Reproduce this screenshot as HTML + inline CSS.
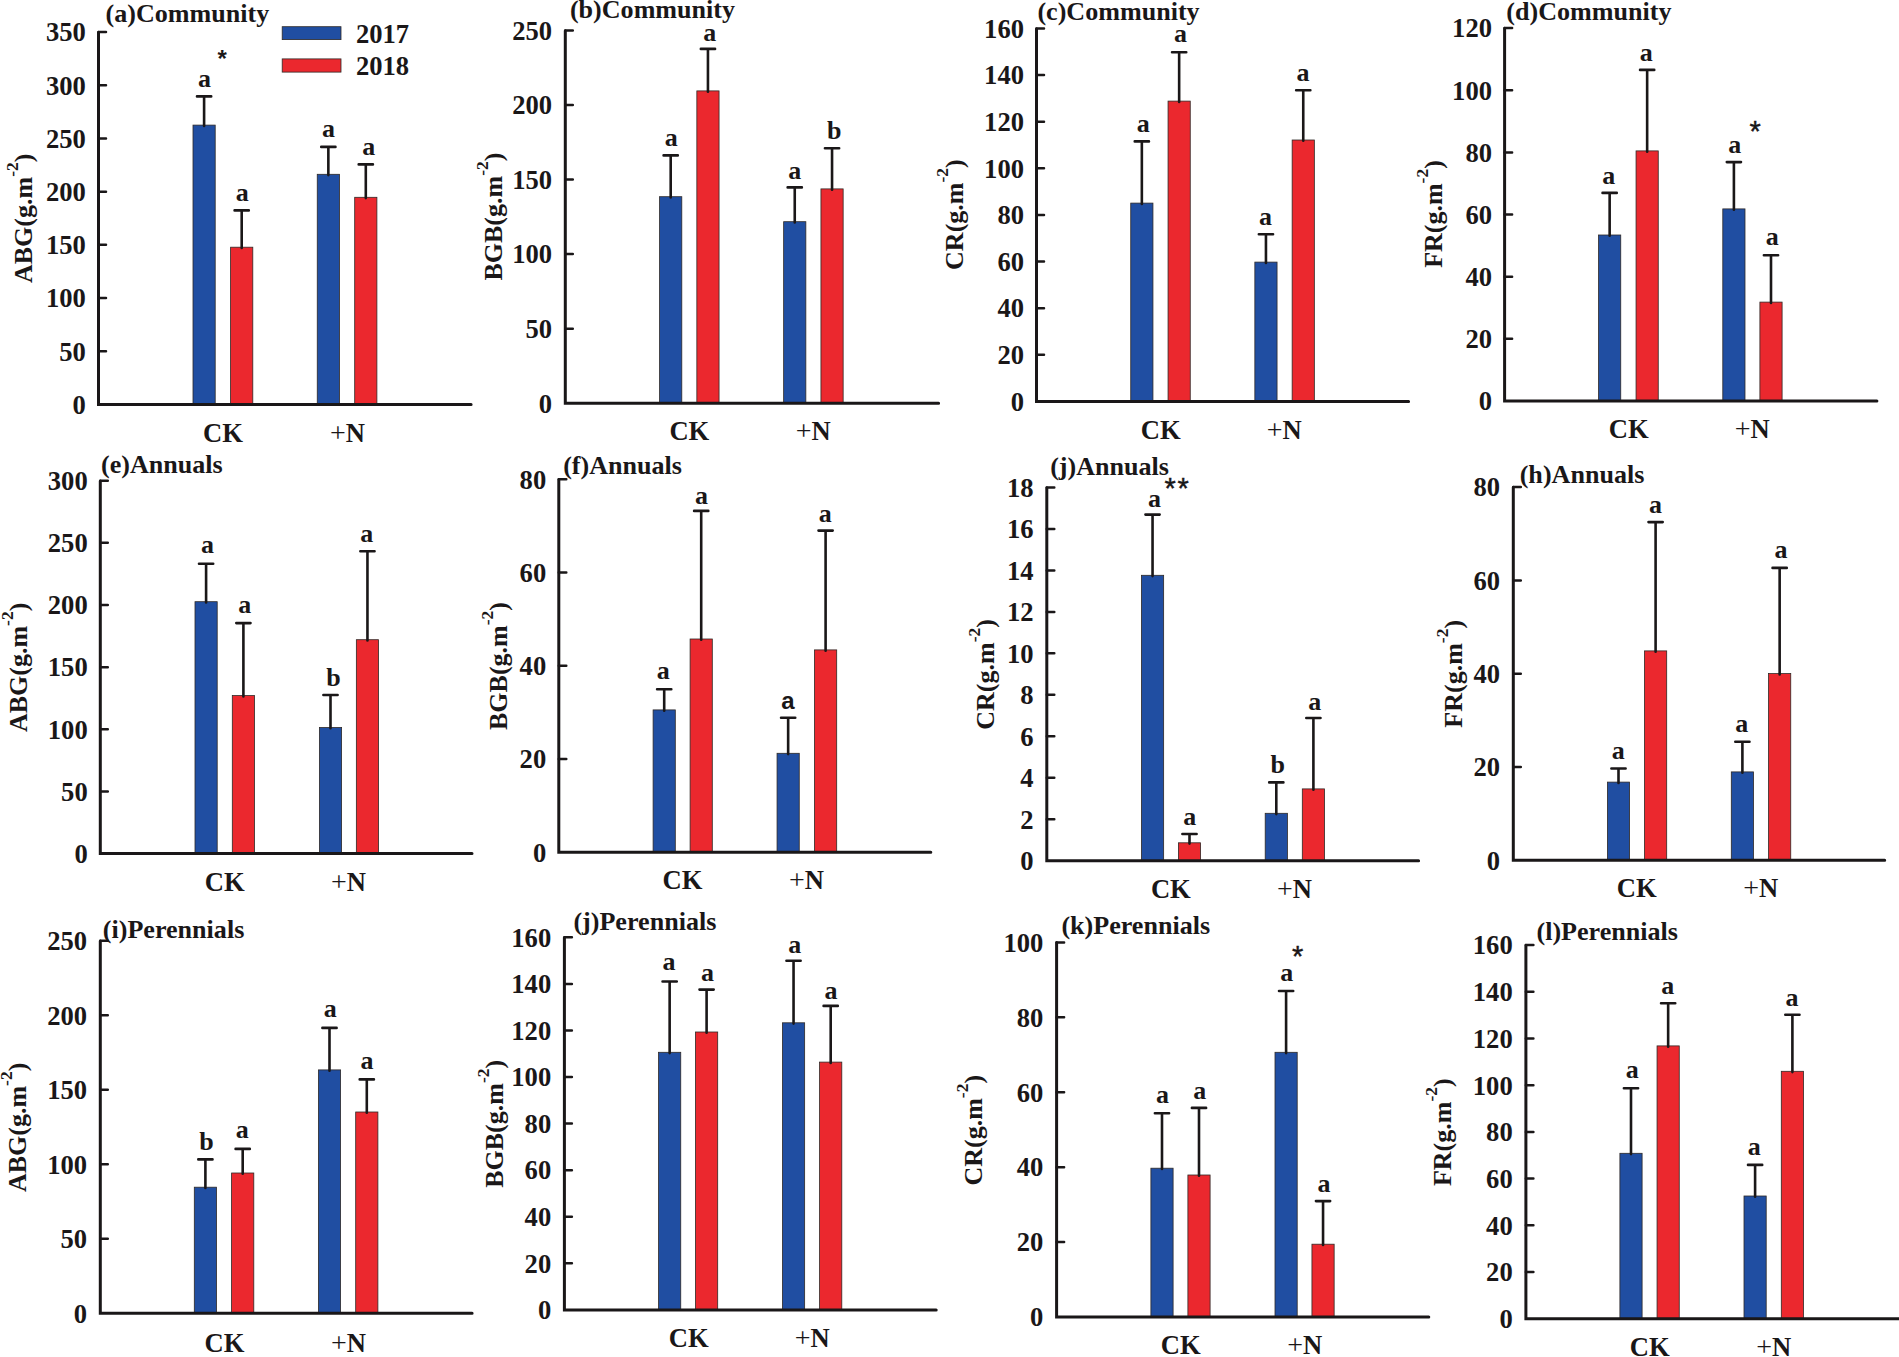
<!DOCTYPE html>
<html lang="en"><head><meta charset="utf-8"><title>Biomass bar charts</title>
<style>html,body{margin:0;padding:0;background:#fff}body{width:1899px;height:1357px;overflow:hidden}svg{display:block}text{font-family:"Liberation Serif","Times New Roman",serif;font-weight:bold;font-size:26px;fill:#1a1718}.s{font-family:"Liberation Sans",Arial,sans-serif}.r{font-weight:normal}.t{font-size:26.6px}.ti{font-size:26.08px}.sa{font-family:"Liberation Sans",Arial,sans-serif;font-size:24px}.sb{font-family:"Liberation Sans",Arial,sans-serif;font-size:24px}.sr{font-family:"Liberation Sans",Arial,sans-serif;font-weight:normal;font-size:29px;stroke:#1a1718;stroke-width:0.45px}.pl{font-weight:normal;font-size:28px}</style></head><body>
<svg width="1899" height="1357" viewBox="0 0 1899 1357">
<rect width="1899" height="1357" fill="#fff"/>
<g id="p-a">
<rect x="193" y="125.1" width="22.2" height="279.4" fill="#204ea2" stroke="#2e2926" stroke-width="0.8"/>
<path d="M204.1 125.9V96.4M197 96.4H211.2" stroke="#1a1718" stroke-width="2.6" fill="none" stroke-linecap="round"/>
<text x="204.53" y="87.1" text-anchor="middle">a</text>
<rect x="230.6" y="247.2" width="22.2" height="157.3" fill="#eb282e" stroke="#2e2926" stroke-width="0.8"/>
<path d="M241.7 248V210.4M234.6 210.4H248.8" stroke="#1a1718" stroke-width="2.6" fill="none" stroke-linecap="round"/>
<text x="242.33" y="200.6" text-anchor="middle">a</text>
<rect x="317.25" y="174.3" width="22.2" height="230.2" fill="#204ea2" stroke="#2e2926" stroke-width="0.8"/>
<path d="M328.35 175.1V146.9M321.25 146.9H335.45" stroke="#1a1718" stroke-width="2.6" fill="none" stroke-linecap="round"/>
<text x="328.58" y="137.1" text-anchor="middle">a</text>
<rect x="354.7" y="197.3" width="22.2" height="207.2" fill="#eb282e" stroke="#2e2926" stroke-width="0.8"/>
<path d="M365.8 198.1V164.4M358.7 164.4H372.9" stroke="#1a1718" stroke-width="2.6" fill="none" stroke-linecap="round"/>
<text x="368.63" y="155.1" text-anchor="middle">a</text>
<path d="M98.5 32.2V404.5H471.1" stroke="#1a1718" stroke-width="3.0" fill="none" stroke-linejoin="miter" stroke-linecap="round"/>
<text class="t" x="85.9" y="41.3" text-anchor="end">350</text>
<text class="t" x="85.9" y="94.51" text-anchor="end">300</text>
<text class="t" x="85.9" y="147.73" text-anchor="end">250</text>
<text class="t" x="85.9" y="200.94" text-anchor="end">200</text>
<text class="t" x="85.9" y="254.16" text-anchor="end">150</text>
<text class="t" x="85.9" y="307.37" text-anchor="end">100</text>
<text class="t" x="85.9" y="360.59" text-anchor="end">50</text>
<text class="t" x="85.9" y="413.8" text-anchor="end">0</text>
<path d="M98.5 32H106M98.5 85.21H106M98.5 138.43H106M98.5 191.64H106M98.5 244.86H106M98.5 298.07H106M98.5 351.29H106" stroke="#1a1718" stroke-width="2.5" fill="none" stroke-linecap="round"/>
<text class="ti" x="105.5" y="21.7">(a)Community</text>
<text transform="translate(32.2 218.3) rotate(-90)" text-anchor="middle">ABG(g.m<tspan dy="-14.3" font-size="17.5">-2</tspan><tspan dy="14.3">)</tspan></text>
<text class="t" x="203" y="441.7">CK</text>
<text class="t" x="329.9" y="441.7"><tspan class="pl">+</tspan>N</text>
<text x="217.4" y="67" class="sb">*</text>
</g>
<g id="p-b">
<rect x="659.6" y="196.7" width="22.2" height="206.5" fill="#204ea2" stroke="#2e2926" stroke-width="0.8"/>
<path d="M670.7 197.5V155.4M663.6 155.4H677.8" stroke="#1a1718" stroke-width="2.6" fill="none" stroke-linecap="round"/>
<text x="671.18" y="146" text-anchor="middle">a</text>
<rect x="696.85" y="90.9" width="22.2" height="312.3" fill="#eb282e" stroke="#2e2926" stroke-width="0.8"/>
<path d="M707.95 91.7V48.9M700.85 48.9H715.05" stroke="#1a1718" stroke-width="2.6" fill="none" stroke-linecap="round"/>
<text x="709.68" y="40.9" text-anchor="middle">a</text>
<rect x="783.65" y="221.7" width="22.2" height="181.5" fill="#204ea2" stroke="#2e2926" stroke-width="0.8"/>
<path d="M794.75 222.5V187.4M787.65 187.4H801.85" stroke="#1a1718" stroke-width="2.6" fill="none" stroke-linecap="round"/>
<text x="794.83" y="179.4" text-anchor="middle">a</text>
<rect x="820.95" y="188.9" width="22.2" height="214.3" fill="#eb282e" stroke="#2e2926" stroke-width="0.8"/>
<path d="M832.05 189.7V148.2M824.95 148.2H839.15" stroke="#1a1718" stroke-width="2.6" fill="none" stroke-linecap="round"/>
<text x="834.25" y="139.1" text-anchor="middle">b</text>
<path d="M565.3 30.7V403.2H938.6" stroke="#1a1718" stroke-width="3.0" fill="none" stroke-linejoin="miter" stroke-linecap="round"/>
<text class="t" x="552.1" y="39.8" text-anchor="end">250</text>
<text class="t" x="552.1" y="114.34" text-anchor="end">200</text>
<text class="t" x="552.1" y="188.88" text-anchor="end">150</text>
<text class="t" x="552.1" y="263.42" text-anchor="end">100</text>
<text class="t" x="552.1" y="337.96" text-anchor="end">50</text>
<text class="t" x="552.1" y="412.5" text-anchor="end">0</text>
<path d="M565.3 30.5H572.8M565.3 105.04H572.8M565.3 179.58H572.8M565.3 254.12H572.8M565.3 328.66H572.8" stroke="#1a1718" stroke-width="2.5" fill="none" stroke-linecap="round"/>
<text class="ti" x="569.9" y="18.1">(b)Community</text>
<text transform="translate(502.1 216.6) rotate(-90)" text-anchor="middle">BGB(g.m<tspan dy="-14.3" font-size="17.5">-2</tspan><tspan dy="14.3">)</tspan></text>
<text class="t" x="669.4" y="440.1">CK</text>
<text class="t" x="795.7" y="440.1"><tspan class="pl">+</tspan>N</text>
</g>
<g id="p-c">
<rect x="1130.75" y="203.1" width="22.2" height="198.3" fill="#204ea2" stroke="#2e2926" stroke-width="0.8"/>
<path d="M1141.85 203.9V141.4M1134.75 141.4H1148.95" stroke="#1a1718" stroke-width="2.6" fill="none" stroke-linecap="round"/>
<text x="1143.13" y="132.2" text-anchor="middle">a</text>
<rect x="1168.05" y="101.1" width="22.2" height="300.3" fill="#eb282e" stroke="#2e2926" stroke-width="0.8"/>
<path d="M1179.15 101.9V52.3M1172.05 52.3H1186.25" stroke="#1a1718" stroke-width="2.6" fill="none" stroke-linecap="round"/>
<text x="1180.43" y="41.8" text-anchor="middle">a</text>
<rect x="1254.85" y="262.1" width="22.2" height="139.3" fill="#204ea2" stroke="#2e2926" stroke-width="0.8"/>
<path d="M1265.95 262.9V234.3M1258.85 234.3H1273.05" stroke="#1a1718" stroke-width="2.6" fill="none" stroke-linecap="round"/>
<text x="1265.48" y="224.7" text-anchor="middle">a</text>
<rect x="1292.15" y="140" width="22.2" height="261.4" fill="#eb282e" stroke="#2e2926" stroke-width="0.8"/>
<path d="M1303.25 140.8V90.2M1296.15 90.2H1310.35" stroke="#1a1718" stroke-width="2.6" fill="none" stroke-linecap="round"/>
<text x="1302.98" y="80.7" text-anchor="middle">a</text>
<path d="M1036.5 28.7V401.4H1408.6" stroke="#1a1718" stroke-width="3.0" fill="none" stroke-linejoin="miter" stroke-linecap="round"/>
<text class="t" x="1024" y="37.8" text-anchor="end">160</text>
<text class="t" x="1024" y="84.41" text-anchor="end">140</text>
<text class="t" x="1024" y="131.03" text-anchor="end">120</text>
<text class="t" x="1024" y="177.64" text-anchor="end">100</text>
<text class="t" x="1024" y="224.25" text-anchor="end">80</text>
<text class="t" x="1024" y="270.86" text-anchor="end">60</text>
<text class="t" x="1024" y="317.47" text-anchor="end">40</text>
<text class="t" x="1024" y="364.09" text-anchor="end">20</text>
<text class="t" x="1024" y="410.7" text-anchor="end">0</text>
<path d="M1036.5 28.5H1044M1036.5 75.11H1044M1036.5 121.72H1044M1036.5 168.34H1044M1036.5 214.95H1044M1036.5 261.56H1044M1036.5 308.17H1044M1036.5 354.79H1044" stroke="#1a1718" stroke-width="2.5" fill="none" stroke-linecap="round"/>
<text class="ti" x="1037.4" y="20.1">(c)Community</text>
<text transform="translate(962.7 214.6) rotate(-90)" text-anchor="middle">CR(g.m<tspan dy="-14.3" font-size="17.5">-2</tspan><tspan dy="14.3">)</tspan></text>
<text class="t" x="1140.7" y="439.1">CK</text>
<text class="t" x="1266.7" y="439.1"><tspan class="pl">+</tspan>N</text>
</g>
<g id="p-d">
<rect x="1598.55" y="235" width="22.2" height="166" fill="#204ea2" stroke="#2e2926" stroke-width="0.8"/>
<path d="M1609.65 235.8V192.9M1602.55 192.9H1616.75" stroke="#1a1718" stroke-width="2.6" fill="none" stroke-linecap="round"/>
<text x="1608.83" y="183.7" text-anchor="middle">a</text>
<rect x="1636.05" y="150.9" width="22.2" height="250.1" fill="#eb282e" stroke="#2e2926" stroke-width="0.8"/>
<path d="M1647.15 151.7V69.9M1640.05 69.9H1654.25" stroke="#1a1718" stroke-width="2.6" fill="none" stroke-linecap="round"/>
<text x="1646.13" y="61.45" text-anchor="middle">a</text>
<rect x="1722.8" y="208.9" width="22.2" height="192.1" fill="#204ea2" stroke="#2e2926" stroke-width="0.8"/>
<path d="M1733.9 209.7V162.1M1726.8 162.1H1741" stroke="#1a1718" stroke-width="2.6" fill="none" stroke-linecap="round"/>
<text x="1734.73" y="152.9" text-anchor="middle">a</text>
<rect x="1759.9" y="302.1" width="22.2" height="98.9" fill="#eb282e" stroke="#2e2926" stroke-width="0.8"/>
<path d="M1771 302.9V255.3M1763.9 255.3H1778.1" stroke="#1a1718" stroke-width="2.6" fill="none" stroke-linecap="round"/>
<text x="1772.33" y="244.7" text-anchor="middle">a</text>
<path d="M1504.6 28.3V401H1876.9" stroke="#1a1718" stroke-width="3.0" fill="none" stroke-linejoin="miter" stroke-linecap="round"/>
<text class="t" x="1492" y="37.4" text-anchor="end">120</text>
<text class="t" x="1492" y="99.55" text-anchor="end">100</text>
<text class="t" x="1492" y="161.7" text-anchor="end">80</text>
<text class="t" x="1492" y="223.85" text-anchor="end">60</text>
<text class="t" x="1492" y="286" text-anchor="end">40</text>
<text class="t" x="1492" y="348.15" text-anchor="end">20</text>
<text class="t" x="1492" y="410.3" text-anchor="end">0</text>
<path d="M1504.6 28.1H1512.1M1504.6 90.25H1512.1M1504.6 152.4H1512.1M1504.6 214.55H1512.1M1504.6 276.7H1512.1M1504.6 338.85H1512.1" stroke="#1a1718" stroke-width="2.5" fill="none" stroke-linecap="round"/>
<text class="ti" x="1506.3" y="20.1">(d)Community</text>
<text transform="translate(1441.8 214) rotate(-90)" text-anchor="middle">FR(g.m<tspan dy="-14.3" font-size="17.5">-2</tspan><tspan dy="14.3">)</tspan></text>
<text class="t" x="1608.7" y="438.4">CK</text>
<text class="t" x="1734.7" y="438.4"><tspan class="pl">+</tspan>N</text>
<text x="1749.6" y="140.6" class="sr">*</text>
</g>
<g id="p-e">
<rect x="195" y="601.7" width="22.2" height="251.9" fill="#204ea2" stroke="#2e2926" stroke-width="0.8"/>
<path d="M206.1 602.5V563.8M199 563.8H213.2" stroke="#1a1718" stroke-width="2.6" fill="none" stroke-linecap="round"/>
<text x="207.38" y="553.2" text-anchor="middle">a</text>
<rect x="232.3" y="695.6" width="22.2" height="158" fill="#eb282e" stroke="#2e2926" stroke-width="0.8"/>
<path d="M243.4 696.4V623.1M236.3 623.1H250.5" stroke="#1a1718" stroke-width="2.6" fill="none" stroke-linecap="round"/>
<text x="244.83" y="613.1" text-anchor="middle">a</text>
<rect x="319.4" y="727.5" width="22.2" height="126.1" fill="#204ea2" stroke="#2e2926" stroke-width="0.8"/>
<path d="M330.5 728.3V695M323.4 695H337.6" stroke="#1a1718" stroke-width="2.6" fill="none" stroke-linecap="round"/>
<text x="333.4" y="685.9" text-anchor="middle">b</text>
<rect x="356.35" y="639.7" width="22.2" height="213.9" fill="#eb282e" stroke="#2e2926" stroke-width="0.8"/>
<path d="M367.45 640.5V551.2M360.35 551.2H374.55" stroke="#1a1718" stroke-width="2.6" fill="none" stroke-linecap="round"/>
<text x="366.78" y="542.4" text-anchor="middle">a</text>
<path d="M100.3 480.9V853.6H472" stroke="#1a1718" stroke-width="3.0" fill="none" stroke-linejoin="miter" stroke-linecap="round"/>
<text class="t" x="87.7" y="490" text-anchor="end">300</text>
<text class="t" x="87.7" y="552.15" text-anchor="end">250</text>
<text class="t" x="87.7" y="614.3" text-anchor="end">200</text>
<text class="t" x="87.7" y="676.45" text-anchor="end">150</text>
<text class="t" x="87.7" y="738.6" text-anchor="end">100</text>
<text class="t" x="87.7" y="800.75" text-anchor="end">50</text>
<text class="t" x="87.7" y="862.9" text-anchor="end">0</text>
<path d="M100.3 480.7H107.8M100.3 542.85H107.8M100.3 605H107.8M100.3 667.15H107.8M100.3 729.3H107.8M100.3 791.45H107.8" stroke="#1a1718" stroke-width="2.5" fill="none" stroke-linecap="round"/>
<text class="ti" x="101" y="472.5">(e)Annuals</text>
<text transform="translate(26.9 667.4) rotate(-90)" text-anchor="middle">ABG(g.m<tspan dy="-14.3" font-size="17.5">-2</tspan><tspan dy="14.3">)</tspan></text>
<text class="t" x="204.7" y="891.3">CK</text>
<text class="t" x="330.9" y="891.3"><tspan class="pl">+</tspan>N</text>
</g>
<g id="p-f">
<rect x="653.1" y="709.9" width="22.2" height="142.3" fill="#204ea2" stroke="#2e2926" stroke-width="0.8"/>
<path d="M664.2 710.7V689.2M657.1 689.2H671.3" stroke="#1a1718" stroke-width="2.6" fill="none" stroke-linecap="round"/>
<text x="663.18" y="678.9" text-anchor="middle">a</text>
<rect x="690.1" y="639" width="22.2" height="213.2" fill="#eb282e" stroke="#2e2926" stroke-width="0.8"/>
<path d="M701.2 639.8V510.9M694.1 510.9H708.3" stroke="#1a1718" stroke-width="2.6" fill="none" stroke-linecap="round"/>
<text x="701.38" y="503.5" text-anchor="middle">a</text>
<rect x="777.05" y="753.3" width="22.2" height="98.9" fill="#204ea2" stroke="#2e2926" stroke-width="0.8"/>
<path d="M788.15 754.1V717.7M781.05 717.7H795.25" stroke="#1a1718" stroke-width="2.6" fill="none" stroke-linecap="round"/>
<text x="787.88" y="709.4" text-anchor="middle" class="sa">a</text>
<rect x="814.5" y="649.9" width="22.2" height="202.3" fill="#eb282e" stroke="#2e2926" stroke-width="0.8"/>
<path d="M825.6 650.7V530.6M818.5 530.6H832.7" stroke="#1a1718" stroke-width="2.6" fill="none" stroke-linecap="round"/>
<text x="825.28" y="522.1" text-anchor="middle">a</text>
<path d="M558.8 479.5V852.2H930.8" stroke="#1a1718" stroke-width="3.0" fill="none" stroke-linejoin="miter" stroke-linecap="round"/>
<text class="t" x="546.2" y="488.6" text-anchor="end">80</text>
<text class="t" x="546.2" y="581.82" text-anchor="end">60</text>
<text class="t" x="546.2" y="675.05" text-anchor="end">40</text>
<text class="t" x="546.2" y="768.27" text-anchor="end">20</text>
<text class="t" x="546.2" y="861.5" text-anchor="end">0</text>
<path d="M558.8 479.3H566.3M558.8 572.52H566.3M558.8 665.75H566.3M558.8 758.98H566.3" stroke="#1a1718" stroke-width="2.5" fill="none" stroke-linecap="round"/>
<text class="ti" x="563.2" y="473.5">(f)Annuals</text>
<text transform="translate(507 666) rotate(-90)" text-anchor="middle">BGB(g.m<tspan dy="-14.3" font-size="17.5">-2</tspan><tspan dy="14.3">)</tspan></text>
<text class="t" x="662.6" y="889.2">CK</text>
<text class="t" x="789" y="889.2"><tspan class="pl">+</tspan>N</text>
</g>
<g id="p-g">
<rect x="1141.45" y="575.3" width="22.2" height="285.4" fill="#204ea2" stroke="#2e2926" stroke-width="0.8"/>
<path d="M1152.55 576.1V514.6M1145.45 514.6H1159.65" stroke="#1a1718" stroke-width="2.6" fill="none" stroke-linecap="round"/>
<text x="1154.43" y="506.7" text-anchor="middle">a</text>
<rect x="1178.4" y="842.8" width="22.2" height="17.9" fill="#eb282e" stroke="#2e2926" stroke-width="0.8"/>
<path d="M1189.5 843.6V834M1182.4 834H1196.6" stroke="#1a1718" stroke-width="2.6" fill="none" stroke-linecap="round"/>
<text x="1189.78" y="824.7" text-anchor="middle">a</text>
<rect x="1265.2" y="813.3" width="22.2" height="47.4" fill="#204ea2" stroke="#2e2926" stroke-width="0.8"/>
<path d="M1276.3 814.1V782.4M1269.2 782.4H1283.4" stroke="#1a1718" stroke-width="2.6" fill="none" stroke-linecap="round"/>
<text x="1277.85" y="773.1" text-anchor="middle">b</text>
<rect x="1302.3" y="788.9" width="22.2" height="71.8" fill="#eb282e" stroke="#2e2926" stroke-width="0.8"/>
<path d="M1313.4 789.7V718M1306.3 718H1320.5" stroke="#1a1718" stroke-width="2.6" fill="none" stroke-linecap="round"/>
<text x="1314.78" y="709.7" text-anchor="middle">a</text>
<path d="M1046.8 487.7V860.7H1418.6" stroke="#1a1718" stroke-width="3.0" fill="none" stroke-linejoin="miter" stroke-linecap="round"/>
<text class="t" x="1033.6" y="496.8" text-anchor="end">18</text>
<text class="t" x="1033.6" y="538.27" text-anchor="end">16</text>
<text class="t" x="1033.6" y="579.73" text-anchor="end">14</text>
<text class="t" x="1033.6" y="621.2" text-anchor="end">12</text>
<text class="t" x="1033.6" y="662.67" text-anchor="end">10</text>
<text class="t" x="1033.6" y="704.13" text-anchor="end">8</text>
<text class="t" x="1033.6" y="745.6" text-anchor="end">6</text>
<text class="t" x="1033.6" y="787.07" text-anchor="end">4</text>
<text class="t" x="1033.6" y="828.53" text-anchor="end">2</text>
<text class="t" x="1033.6" y="870" text-anchor="end">0</text>
<path d="M1046.8 487.5H1054.3M1046.8 528.97H1054.3M1046.8 570.43H1054.3M1046.8 611.9H1054.3M1046.8 653.37H1054.3M1046.8 694.83H1054.3M1046.8 736.3H1054.3M1046.8 777.77H1054.3M1046.8 819.23H1054.3" stroke="#1a1718" stroke-width="2.5" fill="none" stroke-linecap="round"/>
<text class="ti" x="1050.2" y="474.9">(j)Annuals</text>
<text transform="translate(994 674.4) rotate(-90)" text-anchor="middle">CR(g.m<tspan dy="-14.3" font-size="17.5">-2</tspan><tspan dy="14.3">)</tspan></text>
<text class="t" x="1150.9" y="897.7">CK</text>
<text class="t" x="1277" y="897.7"><tspan class="pl">+</tspan>N</text>
<text x="1164.5" y="498.4" class="sr">*</text>
<text x="1177.5" y="498.4" class="sr">*</text>
</g>
<g id="p-h">
<rect x="1607.4" y="782.1" width="22.2" height="78.2" fill="#204ea2" stroke="#2e2926" stroke-width="0.8"/>
<path d="M1618.5 782.9V768.5M1611.4 768.5H1625.6" stroke="#1a1718" stroke-width="2.6" fill="none" stroke-linecap="round"/>
<text x="1618.33" y="758.8" text-anchor="middle">a</text>
<rect x="1644.5" y="650.9" width="22.2" height="209.4" fill="#eb282e" stroke="#2e2926" stroke-width="0.8"/>
<path d="M1655.6 651.7V522.1M1648.5 522.1H1662.7" stroke="#1a1718" stroke-width="2.6" fill="none" stroke-linecap="round"/>
<text x="1655.38" y="513" text-anchor="middle">a</text>
<rect x="1731.3" y="771.9" width="22.2" height="88.4" fill="#204ea2" stroke="#2e2926" stroke-width="0.8"/>
<path d="M1742.4 772.7V741.8M1735.3 741.8H1749.5" stroke="#1a1718" stroke-width="2.6" fill="none" stroke-linecap="round"/>
<text x="1741.68" y="731.6" text-anchor="middle">a</text>
<rect x="1768.55" y="673.6" width="22.2" height="186.7" fill="#eb282e" stroke="#2e2926" stroke-width="0.8"/>
<path d="M1779.65 674.4V567.9M1772.55 567.9H1786.75" stroke="#1a1718" stroke-width="2.6" fill="none" stroke-linecap="round"/>
<text x="1780.88" y="558" text-anchor="middle">a</text>
<path d="M1513.3 487.3V860.3H1884.7" stroke="#1a1718" stroke-width="3.0" fill="none" stroke-linejoin="miter" stroke-linecap="round"/>
<text class="t" x="1500.1" y="496.4" text-anchor="end">80</text>
<text class="t" x="1500.1" y="589.7" text-anchor="end">60</text>
<text class="t" x="1500.1" y="683" text-anchor="end">40</text>
<text class="t" x="1500.1" y="776.3" text-anchor="end">20</text>
<text class="t" x="1500.1" y="869.6" text-anchor="end">0</text>
<path d="M1513.3 487.1H1520.8M1513.3 580.4H1520.8M1513.3 673.7H1520.8M1513.3 767H1520.8" stroke="#1a1718" stroke-width="2.5" fill="none" stroke-linecap="round"/>
<text class="ti" x="1519.7" y="482.5">(h)Annuals</text>
<text transform="translate(1462 673.8) rotate(-90)" text-anchor="middle">FR(g.m<tspan dy="-14.3" font-size="17.5">-2</tspan><tspan dy="14.3">)</tspan></text>
<text class="t" x="1616.8" y="897">CK</text>
<text class="t" x="1743.3" y="897"><tspan class="pl">+</tspan>N</text>
</g>
<g id="p-i">
<rect x="194.3" y="1187.2" width="22.2" height="126.1" fill="#204ea2" stroke="#2e2926" stroke-width="0.8"/>
<path d="M205.4 1188V1159.4M198.3 1159.4H212.5" stroke="#1a1718" stroke-width="2.6" fill="none" stroke-linecap="round"/>
<text x="206.55" y="1149.8" text-anchor="middle">b</text>
<rect x="231.6" y="1173" width="22.2" height="140.3" fill="#eb282e" stroke="#2e2926" stroke-width="0.8"/>
<path d="M242.7 1173.8V1148.9M235.6 1148.9H249.8" stroke="#1a1718" stroke-width="2.6" fill="none" stroke-linecap="round"/>
<text x="242.18" y="1137.9" text-anchor="middle">a</text>
<rect x="318.4" y="1069.9" width="22.2" height="243.4" fill="#204ea2" stroke="#2e2926" stroke-width="0.8"/>
<path d="M329.5 1070.7V1027.9M322.4 1027.9H336.6" stroke="#1a1718" stroke-width="2.6" fill="none" stroke-linecap="round"/>
<text x="330.33" y="1017" text-anchor="middle">a</text>
<rect x="355.7" y="1112" width="22.2" height="201.3" fill="#eb282e" stroke="#2e2926" stroke-width="0.8"/>
<path d="M366.8 1112.8V1079.4M359.7 1079.4H373.9" stroke="#1a1718" stroke-width="2.6" fill="none" stroke-linecap="round"/>
<text x="366.93" y="1068.6" text-anchor="middle">a</text>
<path d="M100.3 940.9V1313.3H472.1" stroke="#1a1718" stroke-width="3.0" fill="none" stroke-linejoin="miter" stroke-linecap="round"/>
<text class="t" x="87.1" y="950" text-anchor="end">250</text>
<text class="t" x="87.1" y="1024.52" text-anchor="end">200</text>
<text class="t" x="87.1" y="1099.04" text-anchor="end">150</text>
<text class="t" x="87.1" y="1173.56" text-anchor="end">100</text>
<text class="t" x="87.1" y="1248.08" text-anchor="end">50</text>
<text class="t" x="87.1" y="1322.6" text-anchor="end">0</text>
<path d="M100.3 940.7H107.8M100.3 1015.22H107.8M100.3 1089.74H107.8M100.3 1164.26H107.8M100.3 1238.78H107.8" stroke="#1a1718" stroke-width="2.5" fill="none" stroke-linecap="round"/>
<text class="ti" x="102.8" y="937.8">(i)Perennials</text>
<text transform="translate(26.4 1127.4) rotate(-90)" text-anchor="middle">ABG(g.m<tspan dy="-14.3" font-size="17.5">-2</tspan><tspan dy="14.3">)</tspan></text>
<text class="t" x="204.5" y="1351.7">CK</text>
<text class="t" x="330.9" y="1351.7"><tspan class="pl">+</tspan>N</text>
</g>
<g id="p-j">
<rect x="658.55" y="1052.3" width="22.2" height="257.6" fill="#204ea2" stroke="#2e2926" stroke-width="0.8"/>
<path d="M669.65 1053.1V981.5M662.55 981.5H676.75" stroke="#1a1718" stroke-width="2.6" fill="none" stroke-linecap="round"/>
<text x="668.98" y="970.3" text-anchor="middle">a</text>
<rect x="695.5" y="1032" width="22.2" height="277.9" fill="#eb282e" stroke="#2e2926" stroke-width="0.8"/>
<path d="M706.6 1032.8V989.6M699.5 989.6H713.7" stroke="#1a1718" stroke-width="2.6" fill="none" stroke-linecap="round"/>
<text x="707.58" y="981" text-anchor="middle">a</text>
<rect x="782.45" y="1022.8" width="22.2" height="287.1" fill="#204ea2" stroke="#2e2926" stroke-width="0.8"/>
<path d="M793.55 1023.6V960.8M786.45 960.8H800.65" stroke="#1a1718" stroke-width="2.6" fill="none" stroke-linecap="round"/>
<text x="794.63" y="952.6" text-anchor="middle">a</text>
<rect x="819.6" y="1062.1" width="22.2" height="247.8" fill="#eb282e" stroke="#2e2926" stroke-width="0.8"/>
<path d="M830.7 1062.9V1005.9M823.6 1005.9H837.8" stroke="#1a1718" stroke-width="2.6" fill="none" stroke-linecap="round"/>
<text x="831.03" y="999.2" text-anchor="middle">a</text>
<path d="M564.4 937.5V1309.9H936.2" stroke="#1a1718" stroke-width="3.0" fill="none" stroke-linejoin="miter" stroke-linecap="round"/>
<text class="t" x="551.2" y="946.6" text-anchor="end">160</text>
<text class="t" x="551.2" y="993.17" text-anchor="end">140</text>
<text class="t" x="551.2" y="1039.75" text-anchor="end">120</text>
<text class="t" x="551.2" y="1086.33" text-anchor="end">100</text>
<text class="t" x="551.2" y="1132.9" text-anchor="end">80</text>
<text class="t" x="551.2" y="1179.47" text-anchor="end">60</text>
<text class="t" x="551.2" y="1226.05" text-anchor="end">40</text>
<text class="t" x="551.2" y="1272.62" text-anchor="end">20</text>
<text class="t" x="551.2" y="1319.2" text-anchor="end">0</text>
<path d="M564.4 937.3H571.9M564.4 983.88H571.9M564.4 1030.45H571.9M564.4 1077.03H571.9M564.4 1123.6H571.9M564.4 1170.17H571.9M564.4 1216.75H571.9M564.4 1263.33H571.9" stroke="#1a1718" stroke-width="2.5" fill="none" stroke-linecap="round"/>
<text class="ti" x="573.4" y="930.4">(j)Perennials</text>
<text transform="translate(502.9 1123.8) rotate(-90)" text-anchor="middle">BGB(g.m<tspan dy="-14.3" font-size="17.5">-2</tspan><tspan dy="14.3">)</tspan></text>
<text class="t" x="668.7" y="1347.3">CK</text>
<text class="t" x="794.8" y="1347.3"><tspan class="pl">+</tspan>N</text>
</g>
<g id="p-k">
<rect x="1150.9" y="1168.2" width="22.2" height="148.8" fill="#204ea2" stroke="#2e2926" stroke-width="0.8"/>
<path d="M1162 1169V1113.3M1154.9 1113.3H1169.1" stroke="#1a1718" stroke-width="2.6" fill="none" stroke-linecap="round"/>
<text x="1162.48" y="1103.3" text-anchor="middle">a</text>
<rect x="1187.9" y="1175" width="22.2" height="142" fill="#eb282e" stroke="#2e2926" stroke-width="0.8"/>
<path d="M1199 1175.8V1107.9M1191.9 1107.9H1206.1" stroke="#1a1718" stroke-width="2.6" fill="none" stroke-linecap="round"/>
<text x="1199.63" y="1099.1" text-anchor="middle">a</text>
<rect x="1275" y="1052.3" width="22.2" height="264.7" fill="#204ea2" stroke="#2e2926" stroke-width="0.8"/>
<path d="M1286.1 1053.1V991M1279 991H1293.2" stroke="#1a1718" stroke-width="2.6" fill="none" stroke-linecap="round"/>
<text x="1286.83" y="981.1" text-anchor="middle">a</text>
<rect x="1311.95" y="1244.2" width="22.2" height="72.8" fill="#eb282e" stroke="#2e2926" stroke-width="0.8"/>
<path d="M1323.05 1245V1201.1M1315.95 1201.1H1330.15" stroke="#1a1718" stroke-width="2.6" fill="none" stroke-linecap="round"/>
<text x="1323.98" y="1192" text-anchor="middle">a</text>
<path d="M1056.6 942.6V1317H1428.8" stroke="#1a1718" stroke-width="3.0" fill="none" stroke-linejoin="miter" stroke-linecap="round"/>
<text class="t" x="1043.4" y="951.7" text-anchor="end">100</text>
<text class="t" x="1043.4" y="1026.62" text-anchor="end">80</text>
<text class="t" x="1043.4" y="1101.54" text-anchor="end">60</text>
<text class="t" x="1043.4" y="1176.46" text-anchor="end">40</text>
<text class="t" x="1043.4" y="1251.38" text-anchor="end">20</text>
<text class="t" x="1043.4" y="1326.3" text-anchor="end">0</text>
<path d="M1056.6 942.4H1064.1M1056.6 1017.32H1064.1M1056.6 1092.24H1064.1M1056.6 1167.16H1064.1M1056.6 1242.08H1064.1" stroke="#1a1718" stroke-width="2.5" fill="none" stroke-linecap="round"/>
<text class="ti" x="1061.4" y="933.6">(k)Perennials</text>
<text transform="translate(982.3 1130.2) rotate(-90)" text-anchor="middle">CR(g.m<tspan dy="-14.3" font-size="17.5">-2</tspan><tspan dy="14.3">)</tspan></text>
<text class="t" x="1160.7" y="1354">CK</text>
<text class="t" x="1287.2" y="1354"><tspan class="pl">+</tspan>N</text>
<text x="1292.1" y="966.2" class="sr">*</text>
</g>
<g id="p-l">
<rect x="1619.9" y="1153.3" width="22.2" height="165.4" fill="#204ea2" stroke="#2e2926" stroke-width="0.8"/>
<path d="M1631 1154.1V1088.2M1623.9 1088.2H1638.1" stroke="#1a1718" stroke-width="2.6" fill="none" stroke-linecap="round"/>
<text x="1632.23" y="1078.4" text-anchor="middle">a</text>
<rect x="1657.05" y="1045.9" width="22.2" height="272.8" fill="#eb282e" stroke="#2e2926" stroke-width="0.8"/>
<path d="M1668.15 1046.7V1003.2M1661.05 1003.2H1675.25" stroke="#1a1718" stroke-width="2.6" fill="none" stroke-linecap="round"/>
<text x="1667.68" y="994" text-anchor="middle">a</text>
<rect x="1744" y="1196" width="22.2" height="122.7" fill="#204ea2" stroke="#2e2926" stroke-width="0.8"/>
<path d="M1755.1 1196.8V1164.9M1748 1164.9H1762.2" stroke="#1a1718" stroke-width="2.6" fill="none" stroke-linecap="round"/>
<text x="1754.33" y="1155.3" text-anchor="middle">a</text>
<rect x="1781.3" y="1071.3" width="22.2" height="247.4" fill="#eb282e" stroke="#2e2926" stroke-width="0.8"/>
<path d="M1792.4 1072.1V1014.7M1785.3 1014.7H1799.5" stroke="#1a1718" stroke-width="2.6" fill="none" stroke-linecap="round"/>
<text x="1791.98" y="1006.2" text-anchor="middle">a</text>
<path d="M1525.9 945.3V1318.7H1898.6" stroke="#1a1718" stroke-width="3.0" fill="none" stroke-linejoin="miter" stroke-linecap="round"/>
<text class="t" x="1512.7" y="954.4" text-anchor="end">160</text>
<text class="t" x="1512.7" y="1001.1" text-anchor="end">140</text>
<text class="t" x="1512.7" y="1047.8" text-anchor="end">120</text>
<text class="t" x="1512.7" y="1094.5" text-anchor="end">100</text>
<text class="t" x="1512.7" y="1141.2" text-anchor="end">80</text>
<text class="t" x="1512.7" y="1187.9" text-anchor="end">60</text>
<text class="t" x="1512.7" y="1234.6" text-anchor="end">40</text>
<text class="t" x="1512.7" y="1281.3" text-anchor="end">20</text>
<text class="t" x="1512.7" y="1328" text-anchor="end">0</text>
<path d="M1525.9 945.1H1533.4M1525.9 991.8H1533.4M1525.9 1038.5H1533.4M1525.9 1085.2H1533.4M1525.9 1131.9H1533.4M1525.9 1178.6H1533.4M1525.9 1225.3H1533.4M1525.9 1272H1533.4" stroke="#1a1718" stroke-width="2.5" fill="none" stroke-linecap="round"/>
<text class="ti" x="1536.5" y="940.2">(l)Perennials</text>
<text transform="translate(1451.3 1132.2) rotate(-90)" text-anchor="middle">FR(g.m<tspan dy="-14.3" font-size="17.5">-2</tspan><tspan dy="14.3">)</tspan></text>
<text class="t" x="1629.7" y="1356.2">CK</text>
<text class="t" x="1756.2" y="1356.2"><tspan class="pl">+</tspan>N</text>
</g>
<g id="legend">
<rect x="282.2" y="26.7" width="58.8" height="12.9" fill="#204ea2" stroke="#2e2926" stroke-width="0.8"/>
<rect x="282.2" y="58.9" width="58.8" height="13.2" fill="#eb282e" stroke="#2e2926" stroke-width="0.8"/>
<text class="t" x="355.9" y="42.7">2017</text>
<text class="t" x="355.9" y="74.8">2018</text>
</g>
</svg></body></html>
